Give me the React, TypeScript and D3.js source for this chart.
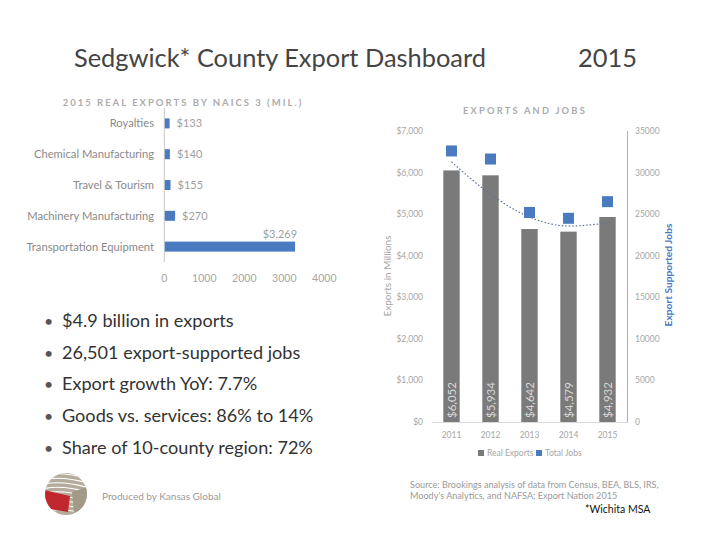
import React from "react";
import * as d3 from "d3";

const categories = [
  "Royalties",
  "Chemical Manufacturing",
  "Travel & Tourism",
  "Machinery Manufacturing",
  "Transportation Equipment",
];
const naicsValues = [133, 140, 155, 270, 3269];
const naicsLabels = ["$133", "$140", "$155", "$270", "$3,269"];
const naicsTicks = [0, 1000, 2000, 3000, 4000];

const years = ["2011", "2012", "2013", "2014", "2015"];
const realExports = [6052, 5934, 4642, 4579, 4932];
const exportLabels = ["$6,052", "$5,934", "$4,642", "$4,579", "$4,932"];
const totalJobs = [32600, 31630, 25200, 24500, 26501];
const jobsTrend = [31300, 27400, 24650, 23570, 23930];
const exportTicks = [0, 1000, 2000, 3000, 4000, 5000, 6000, 7000];
const jobsTicks = [0, 5000, 10000, 15000, 20000, 25000, 30000, 35000];

const bullets = [
  "$4.9 billion in exports",
  "26,501 export-supported jobs",
  "Export growth YoY: 7.7%",
  "Goods vs. services: 86% to 14%",
  "Share of 10-county region: 72%",
];

const FONT = "Lato, 'Open Sans', sans-serif";
const GREY_BAR = "#7a7a7a";
const BLUE = "#4a7bc0";

export default function App() {
  // left chart scales
  const xN = d3.scaleLinear().domain([0, 4000]).range([164.3, 324.3]);
  const yN = d3
    .scaleBand<string>()
    .domain(categories)
    .range([108, 262])
    .paddingInner(0.675)
    .paddingOuter(0.3375);

  // right chart scales
  const xY = d3
    .scaleBand<string>()
    .domain(years)
    .range([432, 627])
    .paddingInner(0.58)
    .paddingOuter(0.29);
  const yE = d3.scaleLinear().domain([0, 7000]).range([422, 131]);
  const yJ = d3.scaleLinear().domain([0, 35000]).range([422, 131]);

  const trendLine = d3
    .line<number>()
    .x((_, i) => (xY(years[i]) as number) + xY.bandwidth() / 2)
    .y((d) => yJ(d))
    .curve(d3.curveMonotoneX);

  const fmtDollar = d3.format("$,");

  return (
    <svg width={720} height={540} style={{ display: "block", position: "absolute", left: 0, top: 0, background: "#fff" }}>
      <rect x={0} y={0} width={720} height={540} fill="#fff" />
      {/* Main title */}
      <text x={74} y={67} fontFamily={FONT} fontSize={25.4} fill="#444">
        Sedgwick* County Export Dashboard
      </text>
      <text x={578} y={67} fontFamily={FONT} fontSize={25.4} fill="#444">
        2015
      </text>

      {/* Left chart */}
      <text x={183} y={106} textAnchor="middle" fontFamily={FONT} fontSize={9.5} fontWeight={700} letterSpacing={2.0} fill="#acacac">
        2015 REAL EXPORTS BY NAICS 3 (MIL.)
      </text>
      {categories.map((c, i) => {
        const y0 = yN(c) as number;
        const bw = yN.bandwidth();
        const x1 = xN(naicsValues[i]);
        const big = naicsValues[i] > 2000;
        return (
          <g key={c}>
            <text x={154} y={y0 + bw / 2 + 4} textAnchor="end" fontFamily={FONT} fontSize={11.2} fill="#8a8a8a">
              {c}
            </text>
            <rect x={xN(0)} y={y0} width={x1 - xN(0)} height={bw} fill={BLUE} />
            {big ? (
              <text x={x1 + 2} y={y0 - 4} textAnchor="end" fontFamily={FONT} fontSize={11} fill="#a0a0a0">
                {naicsLabels[i]}
              </text>
            ) : (
              <text x={x1 + 7} y={y0 + bw / 2 + 4} fontFamily={FONT} fontSize={11} fill="#a0a0a0">
                {naicsLabels[i]}
              </text>
            )}
          </g>
        );
      })}
      <line x1={xN(0)} x2={xN(0)} y1={108} y2={262} stroke="#c8c8c8" strokeWidth={1} />
      {naicsTicks.map((t) => (
        <text key={t} x={xN(t)} y={282} textAnchor="middle" fontFamily={FONT} fontSize={10.5} fill="#a6a6a6">
          {t}
        </text>
      ))}

      {/* Bullets */}
      {bullets.map((b, i) => (
        <g key={b}>
          <text x={44} y={327 + i * 31.7} fontFamily={FONT} fontSize={16} fill="#555">
            •
          </text>
          <text x={62} y={327 + i * 31.7} fontFamily={FONT} fontSize={18.1} fill="#333">
            {b}
          </text>
        </g>
      ))}

      {/* Right chart */}
      <text x={525} y={114} textAnchor="middle" fontFamily={FONT} fontSize={9.3} fontWeight={700} letterSpacing={2.2} fill="#acacac">
        EXPORTS AND JOBS
      </text>
      {exportTicks.map((t) => (
        <text key={t} x={423} y={yE(t) + 3} textAnchor="end" fontFamily={FONT} fontSize={8.5} fill="#a6a6a6">
          {fmtDollar(t)}
        </text>
      ))}
      {jobsTicks.map((t) => (
        <text key={t} x={635} y={yJ(t) + 3} fontFamily={FONT} fontSize={8.5} fill="#a6a6a6">
          {t}
        </text>
      ))}
      {years.map((yr, i) => {
        const x0 = xY(yr) as number;
        const bw = xY.bandwidth();
        const cx = x0 + bw / 2;
        return (
          <g key={yr}>
            <rect x={x0} y={yE(realExports[i])} width={bw} height={yE(0) - yE(realExports[i])} fill={GREY_BAR} />
            <text
              transform={`translate(${cx + 4},${418}) rotate(-90)`}
              fontFamily={FONT}
              fontSize={11.5}
              fill="#d8d8d8"
            >
              {exportLabels[i]}
            </text>
            <text x={cx} y={438} textAnchor="middle" fontFamily={FONT} fontSize={8.5} fill="#a6a6a6">
              {yr}
            </text>
          </g>
        );
      })}
      <line x1={432} x2={628} y1={422.5} y2={422.5} stroke="#d9d9d9" strokeWidth={1} />
      <line x1={627.5} x2={627.5} y1={131} y2={422} stroke="#9fb3c8" strokeWidth={1} />
      <path d={trendLine(jobsTrend) || ""} fill="none" stroke="#5a7396" strokeWidth={1.2} strokeDasharray="1.5,2" />
      {years.map((yr, i) => {
        const cx = (xY(yr) as number) + xY.bandwidth() / 2;
        return <rect key={yr} x={cx - 5.5} y={yJ(totalJobs[i]) - 5.5} width={11} height={11} fill={BLUE} />;
      })}
      <text transform="translate(391,276) rotate(-90)" textAnchor="middle" fontFamily={FONT} fontSize={10} fill="#a6a6a6">
        Exports in Millions
      </text>
      <text transform="translate(672,275) rotate(-90)" textAnchor="middle" fontFamily={FONT} fontSize={10.2} fontWeight={700} fill={BLUE}>
        Export Supported Jobs
      </text>
      {/* legend */}
      <rect x={478} y={450} width={6} height={6} fill={GREY_BAR} />
      <text x={487} y={456} fontFamily={FONT} fontSize={8.5} fill="#a6a6a6">
        Real Exports
      </text>
      <rect x={536} y={450} width={6} height={6} fill={BLUE} />
      <text x={545} y={456} fontFamily={FONT} fontSize={8.5} fill="#a6a6a6">
        Total Jobs
      </text>

      {/* Footer */}
      <text x={410} y={488} fontFamily={FONT} fontSize={9.1} fill="#9a9a9a">
        Source: Brookings analysis of data from Census, BEA, BLS, IRS,
      </text>
      <text x={410} y={499} fontFamily={FONT} fontSize={9.1} fill="#9a9a9a">
        Moody's Analytics, and NAFSA; Export Nation 2015
      </text>
      <text x={585} y={513} fontFamily={FONT} fontSize={10.5} fill="#111">
        *Wichita MSA
      </text>
      <text x={102} y={500} fontFamily={FONT} fontSize={10} fill="#9a9a9a">
        Produced by Kansas Global
      </text>

      {/* Logo */}
      <g>
        <defs>
          <clipPath id="globeClip">
            <circle cx={66} cy={494} r={21} />
          </clipPath>
        </defs>
        <circle cx={66} cy={494} r={21} fill="#b5ab9c" />
        <g clipPath="url(#globeClip)">
          {d3.range(0, 9).map((k) => (
            <path
              key={k}
              d={`M ${40} ${476 + k * 4.5} Q ${62} ${470 + k * 4.5} ${92} ${480 + k * 4.5}`}
              fill="none"
              stroke="#fff"
              strokeWidth={1.2}
            />
          ))}
          <path d="M 44 490 L 70 496 L 68 512 L 44 508 Z" fill="#c0282d" />
          <path d="M 72 492 L 90 486 L 90 514 L 74 512 Z" fill="#a39987" />
        </g>
      </g>
    </svg>
  );
}
